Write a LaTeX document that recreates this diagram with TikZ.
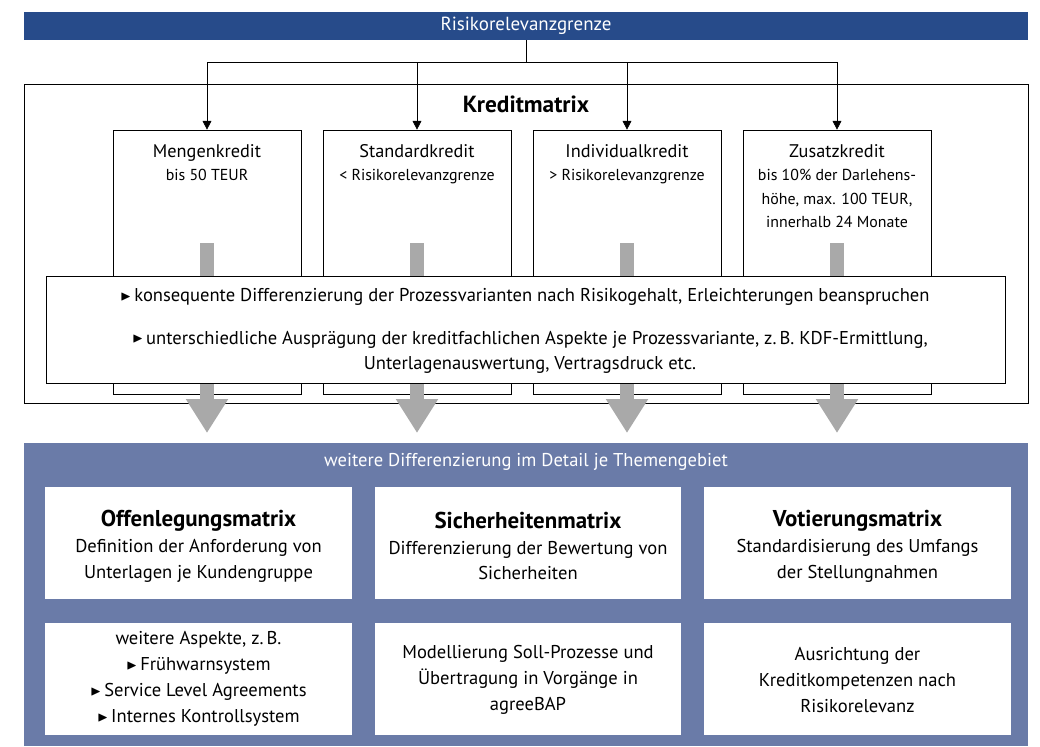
\documentclass[tikz,border=0pt]{standalone}
\usepackage{fontspec}
\setmainfont{PT Sans}
\usepackage{amssymb}
\usepackage{graphicx}
\usetikzlibrary{arrows.meta}
\definecolor{barblue}{RGB}{39,75,138}
\definecolor{panelblue}{RGB}{106,123,168}
\definecolor{arrowgray}{RGB}{169,169,169}
\newcommand{\tri}{\raisebox{0.15ex}{\scalebox{0.75}{$\blacktriangleright$}}\,}
\tikzstyle{bar}=[rectangle,fill=barblue,text=white,minimum width=25.1cm,minimum height=0.7cm,inner sep=0pt,font=\fontsize{13.5}{16}\selectfont]
\tikzstyle{frame}=[rectangle,draw,minimum width=25.1cm,minimum height=7.975cm,inner sep=0pt]
\tikzstyle{kbox}=[rectangle,draw,fill=white,minimum width=4.7cm,minimum height=6.6cm,inner sep=0pt]
\tikzstyle{ktext}=[anchor=north,align=center,inner sep=0pt,font=\fontsize{11.3}{16.7}\selectfont]
\tikzstyle{band}=[rectangle,draw,fill=white,minimum width=23.975cm,minimum height=2.675cm,inner sep=0pt]
\tikzstyle{bandtext}=[align=center,inner sep=0pt,font=\fontsize{13.2}{17.8}\selectfont]
\tikzstyle{panel}=[rectangle,fill=panelblue,minimum width=25.1cm,minimum height=7.575cm,inner sep=0pt]
\tikzstyle{matbox}=[rectangle,fill=white,minimum width=7.65cm,minimum height=2.82cm,inner sep=0pt]
\tikzstyle{mtext}=[align=center,inner sep=0pt,font=\fontsize{13.2}{18.4}\selectfont]
\tikzstyle{bigarrow}=[arrowgray,line width=0.35cm,-{Triangle[width=1cm,length=0.85cm]}]
\newcommand{\kbox}{\node[kbox]}
\newcommand{\matbox}{\node[matbox]}
\newcommand{\mhead}[1]{{\fontsize{16.3}{20}\selectfont\bfseries #1}}
\newcommand{\khead}[1]{{\fontsize{13}{18}\selectfont #1}}

\begin{document}
\begin{tikzpicture}[x=0.025cm,y=-0.025cm]
			\useasboundingbox (0,0) rectangle (1040,746);
			% % % % % % % % % % % % % % % % % % % % % % % % % % % % %
			\node[bar] (rlg) at (526,26) {Risikorelevanzgrenze};
			\node[frame] (kmat) at (526,243.5) {};
			\node[font=\fontsize{16.6}{20}\selectfont\bfseries] (kt) at (526,104) {Kreditmatrix};
			\coordinate (hub) at (526,62);
			%*********************
			\kbox (k1) at (207,262) {};
			\kbox (k2) at (417,262) {};
			\kbox (k3) at (627,262) {};
			\kbox (k4) at (837,262) {};
			\node[ktext] (t1) at (207,144) {\khead{Mengenkredit}\\bis 50 TEUR};
			\node[ktext] (t2) at (417,144) {\khead{Standardkredit}\\< Risikorelevanzgrenze};
			\node[ktext] (t3) at (627,144) {\khead{Individualkredit}\\> Risikorelevanzgrenze};
			\node[ktext] (t4) at (837,144) {\khead{Zusatzkredit}\\bis 10\% der Darlehens-\\höhe, max. 100 TEUR,\\innerhalb 24 Monate};
			%*********************
			\coordinate (g1) at (207,243);
			\coordinate (g2) at (417,243);
			\coordinate (g3) at (627,243);
			\coordinate (g4) at (837,243);
			\coordinate (h1) at (207,433);
			\coordinate (h2) at (417,433);
			\coordinate (h3) at (627,433);
			\coordinate (h4) at (837,433);
			% % % % % % % % % % % % % % % % % % % % % % % % % % % % %
			\path
			(rlg.south) edge [] (hub)
			(hub) edge [-{Triangle[length=2.2mm,width=2.2mm]},to path={-| (\tikztotarget)}] (k1.north)
			(hub) edge [-{Triangle[length=2.2mm,width=2.2mm]},to path={-| (\tikztotarget)}] (k2.north)
			(hub) edge [-{Triangle[length=2.2mm,width=2.2mm]},to path={-| (\tikztotarget)}] (k3.north)
			(hub) edge [-{Triangle[length=2.2mm,width=2.2mm]},to path={-| (\tikztotarget)}] (k4.north)
			(g1) edge [bigarrow] (h1)
			(g2) edge [bigarrow] (h2)
			(g3) edge [bigarrow] (h3)
			(g4) edge [bigarrow] (h4)
			;
			%*********************
			\node[band] (band) at (525.5,329.5) {};
			\node[bandtext] (l1) at (525,297) {\tri konsequente Differenzierung der Prozessvarianten nach Risikogehalt, Erleichterungen beanspruchen};
			\node[bandtext] (l2) at (530,352) {\tri unterschiedliche Ausprägung der kreditfachlichen Aspekte je Prozessvariante, z.\,B. KDF-Ermittlung,\\Unterlagenauswertung, Vertragsdruck etc.};
			% % % % % % % % % % % % % % % % % % % % % % % % % % % % %
			\node[panel] (panel) at (526,594.5) {};
			\node[mtext,text=white] (wd) at (526,462) {weitere Differenzierung im Detail je Themengebiet};
			%*********************
			\matbox (m1) at (198.5,543) {};
			\matbox (m2) at (528,543) {};
			\matbox (m3) at (857.5,543) {};
			\matbox (n1) at (198.5,679) {};
			\matbox (n2) at (528,679) {};
			\matbox (n3) at (857.5,679) {};
			\node[mtext] (mt1) at (198.5,546) {\mhead{Offenlegungsmatrix}\\Definition der Anforderung von\\Unterlagen je Kundengruppe};
			\node[mtext] (mt2) at (528,546) {\mhead{Sicherheitenmatrix}\\Differenzierung der Bewertung von\\Sicherheiten};
			\node[mtext] (mt3) at (857.5,546) {\mhead{Votierungsmatrix}\\Standardisierung des Umfangs\\der Stellungnahmen};
			\node[mtext] (nt1) at (198.5,679) {weitere Aspekte, z.\,B.\\\tri Frühwarnsystem\\\tri Service Level Agreements\\\tri Internes Kontrollsystem};
			\node[mtext] (nt2) at (528,680) {Modellierung Soll-Prozesse und\\Übertragung in Vorgänge in\\agreeBAP};
			\node[mtext] (nt3) at (857.5,680) {Ausrichtung der\\Kreditkompetenzen nach\\Risikorelevanz};
\end{tikzpicture}
\end{document}
